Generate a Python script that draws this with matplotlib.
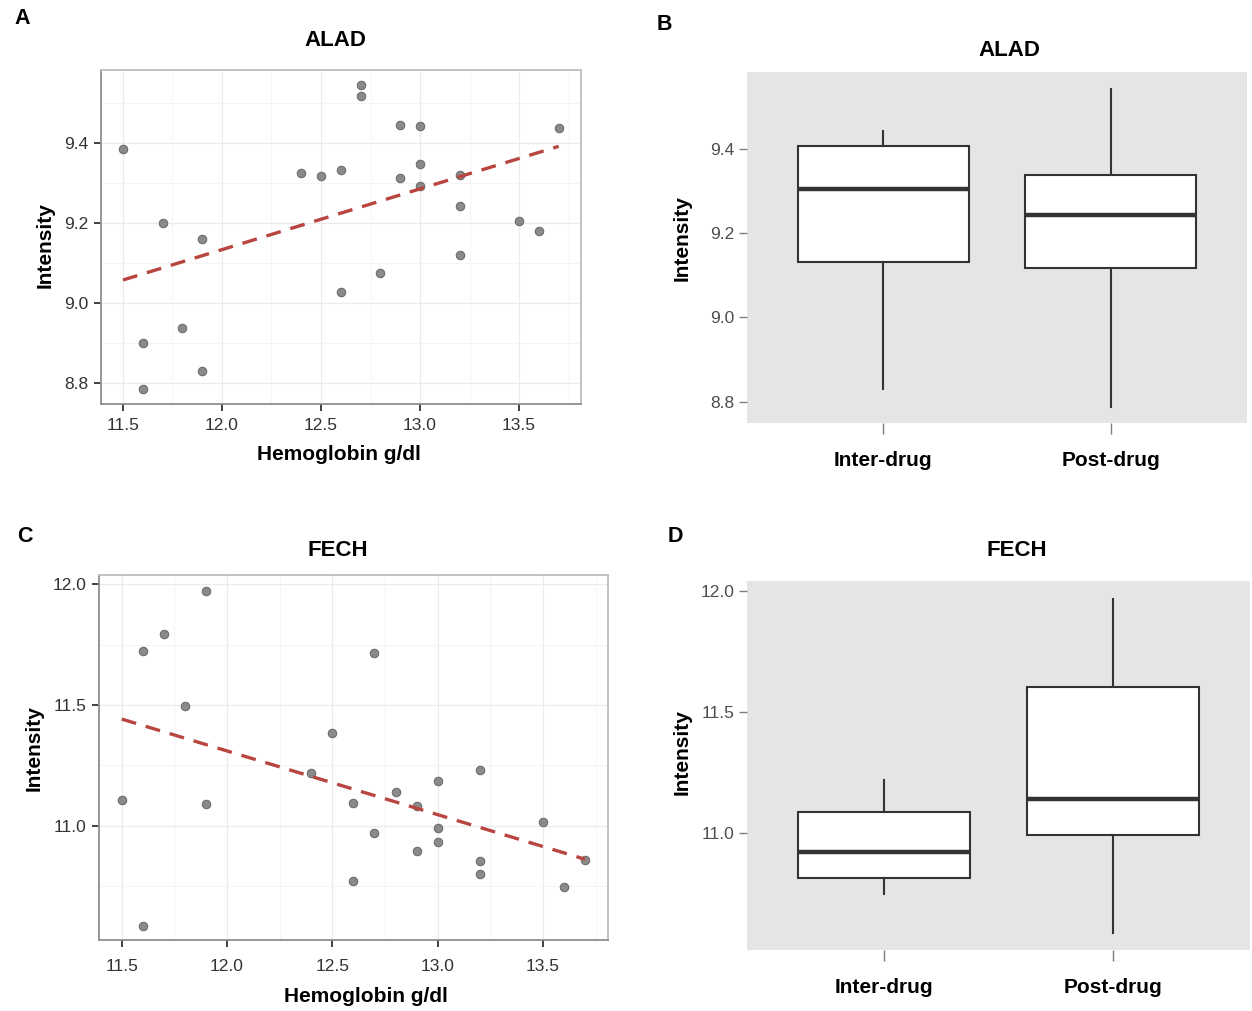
import matplotlib
matplotlib.use("Agg")
import matplotlib.pyplot as plt
import numpy as np
from matplotlib.ticker import MultipleLocator

plt.rcParams['font.family'] = ['Liberation Sans', 'DejaVu Sans']

# hemoglobin values (same patients for both proteins)
hb = [11.5, 11.6, 11.6, 11.7, 11.8, 11.9, 11.9, 12.4, 12.5, 12.6, 12.6, 12.7, 12.7,
      12.8, 12.9, 12.9, 13.0, 13.0, 13.0, 13.2, 13.2, 13.2, 13.5, 13.6, 13.7]
alad = [9.386, 8.900, 8.786, 9.200, 8.937, 9.160, 8.830, 9.326, 9.318, 9.333, 9.028, 9.546, 9.518,
        9.076, 9.444, 9.312, 9.443, 9.348, 9.292, 9.320, 9.243, 9.119, 9.206, 9.181, 9.438]

hb_c = [11.5, 11.6, 11.6, 11.7, 11.8, 11.9, 11.9, 12.4, 12.5, 12.6, 12.6, 12.7, 12.7,
        12.8, 12.9, 12.9, 13.0, 13.0, 13.0, 13.2, 13.2, 13.2, 13.5, 13.6, 13.7]
fech = [11.108, 11.726, 10.586, 11.793, 11.498, 11.971, 11.090, 11.220, 11.385, 11.094, 10.772, 11.715, 10.971,
        11.141, 11.082, 10.896, 11.184, 10.993, 10.932, 11.231, 10.855, 10.801, 11.015, 10.747, 10.858]

groups = ['Inter-drug', 'Post-drug']
# box stats: whisker low, q1, median, q3, whisker high
alad_box = [[8.830, 9.133, 9.305, 9.408, 9.443],
            [8.786, 9.117, 9.243, 9.340, 9.544]]
fech_box = [[10.747, 10.814, 10.920, 11.085, 11.219],
            [10.588, 10.990, 11.140, 11.605, 11.967]]

W, H = 1252, 1011
fig = plt.figure(figsize=(W / 100, H / 100), dpi=100)


def box(l, t, r, b):
    return [l / W, 1 - b / H, (r - l) / W, (b - t) / H]


def ftext(x, y, s, size, rot=0):
    fig.text(x / W, 1 - y / H, s, fontsize=size, fontweight='bold', rotation=rot,
             ha='center', va='center')


def scatter_panel(ax, x, y, xlim, ylim, yticks, xpad):
    ax.set_facecolor('white')
    ax.set_xlim(*xlim)
    ax.set_ylim(*ylim)
    ax.set_xticks([11.5, 12.0, 12.5, 13.0, 13.5])
    ax.set_yticks(yticks)
    ax.xaxis.set_minor_locator(MultipleLocator(0.25))
    ax.yaxis.set_minor_locator(MultipleLocator((yticks[1] - yticks[0]) / 2))
    ax.grid(True, which='major', color='#ebebeb', lw=0.9)
    ax.grid(True, which='minor', color='#f4f4f4', lw=0.7)
    ax.set_axisbelow(True)
    for side, s in ax.spines.items():
        s.set_color('#8f8f8f' if side in ('left', 'bottom') else '#bdbdbd')
        s.set_linewidth(1.3)
    ax.tick_params(which='major', length=5, width=1.3, color='#333333',
                   labelsize=12.5, labelcolor='#333333', pad=4)
    ax.tick_params(axis='x', pad=xpad)
    ax.tick_params(which='minor', length=0)
    ax.scatter(x, y, s=38, c='#8a8a8a', edgecolors='#666666', linewidths=0.7, zorder=3)
    k, c0 = np.polyfit(x, y, 1)
    xs = np.array([min(x), max(x)])
    ax.plot(xs, k * xs + c0, color='#b8453f', lw=2.4, dashes=(4.5, 3), zorder=4)


def box_panel(ax, stats, ylim, yticks):
    bs = []
    for g, s in zip(groups, stats):
        bs.append(dict(label=g, whislo=s[0], q1=s[1], med=s[2], q3=s[3], whishi=s[4], fliers=[]))
    ax.bxp(bs, positions=[1, 2], widths=0.75, showcaps=False, patch_artist=True,
           boxprops=dict(facecolor='white', edgecolor='#333333', lw=1.5),
           whiskerprops=dict(color='#333333', lw=1.5),
           medianprops=dict(color='#333333', lw=3.2))
    ax.set_facecolor('#e5e5e5')
    ax.set_xlim(0.4, 2.6)
    ax.set_ylim(*ylim)
    ax.set_yticks(yticks)
    ax.set_xticks([1, 2])
    ax.set_xticklabels(groups)
    for s in ax.spines.values():
        s.set_visible(False)
    ax.tick_params(axis='y', length=6, width=1, color='#7f7f7f', labelsize=12.5,
                   labelcolor='#4d4d4d', pad=3)
    ax.tick_params(axis='x', length=8, width=1, color='#7f7f7f', labelsize=15, pad=12)
    for lb in ax.get_xticklabels():
        lb.set_fontweight('bold')


axA = fig.add_axes(box(101, 70, 581, 404))
scatter_panel(axA, hb, alad, (11.389, 13.813), (8.7475, 9.5825), [8.8, 9.0, 9.2, 9.4], 5)

axB = fig.add_axes(box(747, 72, 1247, 423))
box_panel(axB, alad_box, (8.749, 9.584), [8.8, 9.0, 9.2, 9.4])

axC = fig.add_axes(box(99, 575, 608, 940))
scatter_panel(axC, hb_c, fech, (11.392, 13.809), (10.527, 12.039), [11.0, 11.5, 12.0], 9)

axD = fig.add_axes(box(747, 581, 1250, 950))
box_panel(axD, fech_box, (10.517, 12.041), [11.0, 11.5, 12.0])

# titles, axis labels, panel letters
ftext(335, 40, 'ALAD', 16)
ftext(1009, 50, 'ALAD', 16)
ftext(338, 551, 'FECH', 16)
ftext(1017, 551, 'FECH', 16)
ftext(339, 455, 'Hemoglobin g/dl', 15)
ftext(366, 997, 'Hemoglobin g/dl', 15)
ftext(45, 245, 'Intensity', 15, 90)
ftext(34, 748, 'Intensity', 15, 90)
ftext(682, 238, 'Intensity', 15, 90)
ftext(682, 752, 'Intensity', 15, 90)

for lab, x, y in [('A', 22, 18), ('B', 664, 25), ('C', 25, 537), ('D', 675, 537)]:
    ftext(x, y, lab, 15.5)

fig.savefig('out.png', dpi=100)
